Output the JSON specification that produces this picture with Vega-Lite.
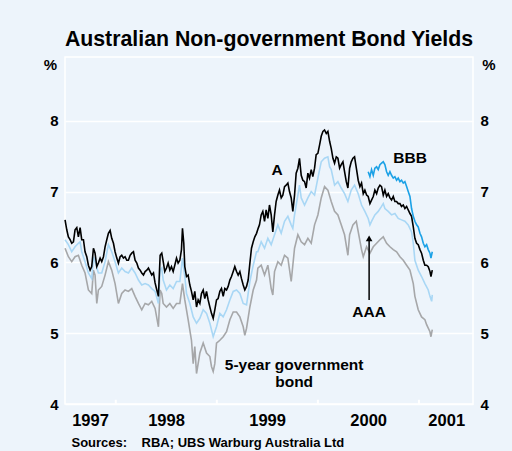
{
"$schema": "https://vega.github.io/schema/vega-lite/v6.json",
"width": 408, "height": 347,
"autosize": {"type": "none"},
"padding": {"left": 65, "top": 57, "right": 39, "bottom": 47},
"background": "#edf4fb",
"title": {"text": "Australian Non-government Bond Yields", "fontSize": 21.3, "font": "Liberation Sans", "fontWeight": "bold", "color": "black", "anchor": "middle", "frame": "group", "baseline": "alphabetic", "offset": -10},
"config": {
  "view": {"fill": "#edf4fb", "stroke": "white", "strokeWidth": 1.5},
  "font": "Liberation Sans",
  "axis": {"gridColor": "white", "gridWidth": 1.5, "gridOpacity": 1, "domain": false, "ticks": false, "labelFont": "Liberation Sans", "labelFontWeight": "bold", "labelColor": "black", "titleFont": "Liberation Sans", "titleFontWeight": "bold", "titleColor": "black"}
},
"resolve": {"axis": {"y": "independent"}},
"datasets": {
"lines": [
{"s":"G","t":1997.498,"v":6.20},{"s":"G","t":1997.531,"v":6.08},{"s":"G","t":1997.564,"v":6.01},{"s":"G","t":1997.597,"v":6.08},{"s":"G","t":1997.630,"v":6.10},{"s":"G","t":1997.663,"v":5.96},{"s":"G","t":1997.696,"v":5.85},{"s":"G","t":1997.729,"v":5.61},{"s":"G","t":1997.762,"v":5.56},{"s":"G","t":1997.779,"v":5.89},{"s":"G","t":1997.795,"v":5.82},{"s":"G","t":1997.812,"v":5.42},{"s":"G","t":1997.828,"v":5.61},{"s":"G","t":1997.861,"v":5.66},{"s":"G","t":1997.894,"v":5.82},{"s":"G","t":1997.927,"v":6.01},{"s":"G","t":1997.960,"v":5.89},{"s":"G","t":1997.993,"v":5.70},{"s":"G","t":1998.026,"v":5.42},{"s":"G","t":1998.059,"v":5.56},{"s":"G","t":1998.092,"v":5.61},{"s":"G","t":1998.125,"v":5.59},{"s":"G","t":1998.158,"v":5.63},{"s":"G","t":1998.191,"v":5.52},{"s":"G","t":1998.224,"v":5.42},{"s":"G","t":1998.257,"v":5.33},{"s":"G","t":1998.290,"v":5.42},{"s":"G","t":1998.323,"v":5.40},{"s":"G","t":1998.356,"v":5.45},{"s":"G","t":1998.389,"v":5.35},{"s":"G","t":1998.422,"v":5.09},{"s":"G","t":1998.439,"v":5.61},{"s":"G","t":1998.455,"v":5.56},{"s":"G","t":1998.469,"v":5.42},{"s":"G","t":1998.502,"v":5.37},{"s":"G","t":1998.535,"v":5.42},{"s":"G","t":1998.568,"v":5.35},{"s":"G","t":1998.601,"v":5.42},{"s":"G","t":1998.634,"v":5.42},{"s":"G","t":1998.660,"v":5.70},{"s":"G","t":1998.683,"v":5.47},{"s":"G","t":1998.716,"v":5.19},{"s":"G","t":1998.749,"v":4.90},{"s":"G","t":1998.766,"v":4.57},{"s":"G","t":1998.782,"v":4.81},{"s":"G","t":1998.799,"v":4.43},{"s":"G","t":1998.832,"v":4.72},{"s":"G","t":1998.865,"v":4.86},{"s":"G","t":1998.898,"v":4.72},{"s":"G","t":1998.931,"v":4.67},{"s":"G","t":1998.947,"v":4.53},{"s":"G","t":1998.964,"v":4.46},{"s":"G","t":1998.980,"v":4.57},{"s":"G","t":1998.997,"v":4.86},{"s":"G","t":1999.030,"v":4.90},{"s":"G","t":1999.063,"v":4.95},{"s":"G","t":1999.096,"v":5.02},{"s":"G","t":1999.129,"v":5.19},{"s":"G","t":1999.162,"v":5.30},{"s":"G","t":1999.195,"v":5.30},{"s":"G","t":1999.228,"v":5.23},{"s":"G","t":1999.261,"v":5.09},{"s":"G","t":1999.277,"v":4.97},{"s":"G","t":1999.294,"v":5.07},{"s":"G","t":1999.327,"v":5.37},{"s":"G","t":1999.360,"v":5.61},{"s":"G","t":1999.393,"v":5.75},{"s":"G","t":1999.406,"v":5.92},{"s":"G","t":1999.439,"v":5.96},{"s":"G","t":1999.472,"v":5.82},{"s":"G","t":1999.505,"v":5.96},{"s":"G","t":1999.538,"v":5.63},{"s":"G","t":1999.554,"v":5.54},{"s":"G","t":1999.571,"v":5.87},{"s":"G","t":1999.604,"v":6.01},{"s":"G","t":1999.637,"v":5.96},{"s":"G","t":1999.670,"v":6.10},{"s":"G","t":1999.703,"v":6.06},{"s":"G","t":1999.736,"v":5.73},{"s":"G","t":1999.769,"v":6.20},{"s":"G","t":1999.802,"v":6.39},{"s":"G","t":1999.835,"v":6.29},{"s":"G","t":1999.868,"v":6.25},{"s":"G","t":1999.901,"v":6.34},{"s":"G","t":1999.934,"v":6.27},{"s":"G","t":1999.967,"v":6.53},{"s":"G","t":2000.000,"v":6.67},{"s":"G","t":2000.033,"v":6.91},{"s":"G","t":2000.066,"v":7.07},{"s":"G","t":2000.099,"v":7.02},{"s":"G","t":2000.132,"v":6.86},{"s":"G","t":2000.165,"v":6.72},{"s":"G","t":2000.198,"v":6.67},{"s":"G","t":2000.231,"v":6.53},{"s":"G","t":2000.264,"v":6.39},{"s":"G","t":2000.297,"v":6.10},{"s":"G","t":2000.314,"v":6.39},{"s":"G","t":2000.347,"v":6.53},{"s":"G","t":2000.380,"v":6.58},{"s":"G","t":2000.432,"v":6.18},{"s":"G","t":2000.449,"v":6.08},{"s":"G","t":2000.482,"v":6.22},{"s":"G","t":2000.515,"v":6.13},{"s":"G","t":2000.548,"v":6.22},{"s":"G","t":2000.581,"v":6.27},{"s":"G","t":2000.614,"v":6.32},{"s":"G","t":2000.647,"v":6.36},{"s":"G","t":2000.680,"v":6.27},{"s":"G","t":2000.713,"v":6.22},{"s":"G","t":2000.746,"v":6.18},{"s":"G","t":2000.779,"v":6.15},{"s":"G","t":2000.812,"v":6.08},{"s":"G","t":2000.845,"v":6.03},{"s":"G","t":2000.878,"v":5.96},{"s":"G","t":2000.911,"v":5.89},{"s":"G","t":2000.944,"v":5.70},{"s":"G","t":2000.960,"v":5.52},{"s":"G","t":2000.993,"v":5.33},{"s":"G","t":2001.026,"v":5.23},{"s":"G","t":2001.059,"v":5.19},{"s":"G","t":2001.076,"v":5.12},{"s":"G","t":2001.109,"v":5.02},{"s":"G","t":2001.119,"v":4.95},{"s":"G","t":2001.132,"v":5.05},
{"s":"AAA","t":1997.498,"v":6.32},{"s":"AAA","t":1997.531,"v":6.25},{"s":"AAA","t":1997.564,"v":6.15},{"s":"AAA","t":1997.597,"v":6.22},{"s":"AAA","t":1997.630,"v":6.27},{"s":"AAA","t":1997.647,"v":6.29},{"s":"AAA","t":1997.663,"v":6.15},{"s":"AAA","t":1997.696,"v":6.01},{"s":"AAA","t":1997.729,"v":5.85},{"s":"AAA","t":1997.762,"v":5.77},{"s":"AAA","t":1997.779,"v":6.08},{"s":"AAA","t":1997.795,"v":6.01},{"s":"AAA","t":1997.828,"v":5.85},{"s":"AAA","t":1997.861,"v":5.85},{"s":"AAA","t":1997.894,"v":6.01},{"s":"AAA","t":1997.927,"v":6.25},{"s":"AAA","t":1997.960,"v":6.15},{"s":"AAA","t":1997.993,"v":6.01},{"s":"AAA","t":1998.026,"v":5.85},{"s":"AAA","t":1998.059,"v":5.92},{"s":"AAA","t":1998.092,"v":5.87},{"s":"AAA","t":1998.125,"v":5.85},{"s":"AAA","t":1998.158,"v":5.92},{"s":"AAA","t":1998.191,"v":5.85},{"s":"AAA","t":1998.224,"v":5.75},{"s":"AAA","t":1998.257,"v":5.68},{"s":"AAA","t":1998.290,"v":5.70},{"s":"AAA","t":1998.323,"v":5.68},{"s":"AAA","t":1998.356,"v":5.63},{"s":"AAA","t":1998.389,"v":5.59},{"s":"AAA","t":1998.422,"v":5.42},{"s":"AAA","t":1998.439,"v":5.89},{"s":"AAA","t":1998.455,"v":5.92},{"s":"AAA","t":1998.469,"v":5.75},{"s":"AAA","t":1998.502,"v":5.61},{"s":"AAA","t":1998.535,"v":5.68},{"s":"AAA","t":1998.568,"v":5.63},{"s":"AAA","t":1998.601,"v":5.73},{"s":"AAA","t":1998.634,"v":5.73},{"s":"AAA","t":1998.660,"v":6.06},{"s":"AAA","t":1998.683,"v":5.80},{"s":"AAA","t":1998.700,"v":5.56},{"s":"AAA","t":1998.733,"v":5.42},{"s":"AAA","t":1998.766,"v":5.23},{"s":"AAA","t":1998.799,"v":5.14},{"s":"AAA","t":1998.832,"v":5.21},{"s":"AAA","t":1998.865,"v":5.33},{"s":"AAA","t":1998.898,"v":5.28},{"s":"AAA","t":1998.931,"v":5.14},{"s":"AAA","t":1998.964,"v":4.95},{"s":"AAA","t":1998.997,"v":5.09},{"s":"AAA","t":1999.030,"v":5.28},{"s":"AAA","t":1999.063,"v":5.23},{"s":"AAA","t":1999.096,"v":5.33},{"s":"AAA","t":1999.129,"v":5.47},{"s":"AAA","t":1999.162,"v":5.59},{"s":"AAA","t":1999.195,"v":5.61},{"s":"AAA","t":1999.228,"v":5.56},{"s":"AAA","t":1999.261,"v":5.42},{"s":"AAA","t":1999.294,"v":5.40},{"s":"AAA","t":1999.327,"v":5.73},{"s":"AAA","t":1999.360,"v":5.96},{"s":"AAA","t":1999.393,"v":6.15},{"s":"AAA","t":1999.406,"v":6.15},{"s":"AAA","t":1999.439,"v":6.29},{"s":"AAA","t":1999.472,"v":6.20},{"s":"AAA","t":1999.505,"v":6.34},{"s":"AAA","t":1999.538,"v":6.25},{"s":"AAA","t":1999.571,"v":6.39},{"s":"AAA","t":1999.604,"v":6.53},{"s":"AAA","t":1999.637,"v":6.41},{"s":"AAA","t":1999.670,"v":6.58},{"s":"AAA","t":1999.703,"v":6.65},{"s":"AAA","t":1999.736,"v":6.53},{"s":"AAA","t":1999.752,"v":6.48},{"s":"AAA","t":1999.769,"v":6.67},{"s":"AAA","t":1999.802,"v":6.95},{"s":"AAA","t":1999.818,"v":7.09},{"s":"AAA","t":1999.835,"v":6.91},{"s":"AAA","t":1999.868,"v":6.81},{"s":"AAA","t":1999.901,"v":6.91},{"s":"AAA","t":1999.934,"v":7.00},{"s":"AAA","t":1999.967,"v":6.95},{"s":"AAA","t":2000.000,"v":7.19},{"s":"AAA","t":2000.033,"v":7.42},{"s":"AAA","t":2000.066,"v":7.47},{"s":"AAA","t":2000.099,"v":7.49},{"s":"AAA","t":2000.116,"v":7.35},{"s":"AAA","t":2000.132,"v":7.31},{"s":"AAA","t":2000.165,"v":7.09},{"s":"AAA","t":2000.198,"v":7.14},{"s":"AAA","t":2000.231,"v":7.05},{"s":"AAA","t":2000.264,"v":6.97},{"s":"AAA","t":2000.297,"v":6.86},{"s":"AAA","t":2000.330,"v":7.02},{"s":"AAA","t":2000.363,"v":7.09},{"s":"AAA","t":2000.399,"v":6.97},{"s":"AAA","t":2000.432,"v":6.81},{"s":"AAA","t":2000.465,"v":6.72},{"s":"AAA","t":2000.498,"v":6.62},{"s":"AAA","t":2000.515,"v":6.53},{"s":"AAA","t":2000.531,"v":6.58},{"s":"AAA","t":2000.564,"v":6.67},{"s":"AAA","t":2000.597,"v":6.72},{"s":"AAA","t":2000.630,"v":6.79},{"s":"AAA","t":2000.647,"v":6.83},{"s":"AAA","t":2000.663,"v":6.76},{"s":"AAA","t":2000.696,"v":6.72},{"s":"AAA","t":2000.729,"v":6.67},{"s":"AAA","t":2000.762,"v":6.69},{"s":"AAA","t":2000.795,"v":6.62},{"s":"AAA","t":2000.828,"v":6.60},{"s":"AAA","t":2000.861,"v":6.58},{"s":"AAA","t":2000.894,"v":6.53},{"s":"AAA","t":2000.927,"v":6.43},{"s":"AAA","t":2000.944,"v":6.27},{"s":"AAA","t":2000.960,"v":6.03},{"s":"AAA","t":2000.993,"v":5.89},{"s":"AAA","t":2001.026,"v":5.80},{"s":"AAA","t":2001.059,"v":5.70},{"s":"AAA","t":2001.092,"v":5.61},{"s":"AAA","t":2001.109,"v":5.52},{"s":"AAA","t":2001.126,"v":5.45},{"s":"AAA","t":2001.132,"v":5.54},
{"s":"A","t":1997.498,"v":6.60},{"s":"A","t":1997.515,"v":6.46},{"s":"A","t":1997.531,"v":6.36},{"s":"A","t":1997.548,"v":6.32},{"s":"A","t":1997.564,"v":6.27},{"s":"A","t":1997.581,"v":6.29},{"s":"A","t":1997.597,"v":6.46},{"s":"A","t":1997.614,"v":6.49},{"s":"A","t":1997.630,"v":6.36},{"s":"A","t":1997.647,"v":6.49},{"s":"A","t":1997.663,"v":6.32},{"s":"A","t":1997.680,"v":6.32},{"s":"A","t":1997.696,"v":6.15},{"s":"A","t":1997.713,"v":6.08},{"s":"A","t":1997.729,"v":5.96},{"s":"A","t":1997.746,"v":5.89},{"s":"A","t":1997.762,"v":5.94},{"s":"A","t":1997.779,"v":6.20},{"s":"A","t":1997.795,"v":6.13},{"s":"A","t":1997.812,"v":5.94},{"s":"A","t":1997.828,"v":5.99},{"s":"A","t":1997.845,"v":6.06},{"s":"A","t":1997.861,"v":6.01},{"s":"A","t":1997.878,"v":6.08},{"s":"A","t":1997.894,"v":6.22},{"s":"A","t":1997.911,"v":6.32},{"s":"A","t":1997.927,"v":6.41},{"s":"A","t":1997.944,"v":6.45},{"s":"A","t":1997.960,"v":6.34},{"s":"A","t":1997.977,"v":6.27},{"s":"A","t":1997.993,"v":6.15},{"s":"A","t":1998.010,"v":6.06},{"s":"A","t":1998.026,"v":5.99},{"s":"A","t":1998.043,"v":6.08},{"s":"A","t":1998.059,"v":6.10},{"s":"A","t":1998.076,"v":6.06},{"s":"A","t":1998.092,"v":6.08},{"s":"A","t":1998.109,"v":6.03},{"s":"A","t":1998.125,"v":6.03},{"s":"A","t":1998.142,"v":6.10},{"s":"A","t":1998.158,"v":6.13},{"s":"A","t":1998.175,"v":6.15},{"s":"A","t":1998.191,"v":6.03},{"s":"A","t":1998.208,"v":5.99},{"s":"A","t":1998.224,"v":5.92},{"s":"A","t":1998.241,"v":5.89},{"s":"A","t":1998.257,"v":5.85},{"s":"A","t":1998.274,"v":5.82},{"s":"A","t":1998.290,"v":5.87},{"s":"A","t":1998.307,"v":5.89},{"s":"A","t":1998.323,"v":5.92},{"s":"A","t":1998.340,"v":5.87},{"s":"A","t":1998.356,"v":5.82},{"s":"A","t":1998.373,"v":5.85},{"s":"A","t":1998.389,"v":5.71},{"s":"A","t":1998.406,"v":5.61},{"s":"A","t":1998.422,"v":5.52},{"s":"A","t":1998.439,"v":6.10},{"s":"A","t":1998.455,"v":6.13},{"s":"A","t":1998.472,"v":5.99},{"s":"A","t":1998.485,"v":5.87},{"s":"A","t":1998.502,"v":5.92},{"s":"A","t":1998.518,"v":5.99},{"s":"A","t":1998.535,"v":5.89},{"s":"A","t":1998.551,"v":5.94},{"s":"A","t":1998.568,"v":5.87},{"s":"A","t":1998.584,"v":5.96},{"s":"A","t":1998.601,"v":6.06},{"s":"A","t":1998.617,"v":5.99},{"s":"A","t":1998.634,"v":6.03},{"s":"A","t":1998.650,"v":6.18},{"s":"A","t":1998.660,"v":6.48},{"s":"A","t":1998.673,"v":6.27},{"s":"A","t":1998.683,"v":5.94},{"s":"A","t":1998.700,"v":5.80},{"s":"A","t":1998.716,"v":5.82},{"s":"A","t":1998.733,"v":5.68},{"s":"A","t":1998.749,"v":5.59},{"s":"A","t":1998.766,"v":5.47},{"s":"A","t":1998.782,"v":5.59},{"s":"A","t":1998.799,"v":5.37},{"s":"A","t":1998.815,"v":5.47},{"s":"A","t":1998.832,"v":5.42},{"s":"A","t":1998.848,"v":5.56},{"s":"A","t":1998.865,"v":5.61},{"s":"A","t":1998.881,"v":5.49},{"s":"A","t":1998.898,"v":5.59},{"s":"A","t":1998.914,"v":5.47},{"s":"A","t":1998.931,"v":5.37},{"s":"A","t":1998.947,"v":5.28},{"s":"A","t":1998.964,"v":5.21},{"s":"A","t":1998.980,"v":5.33},{"s":"A","t":1998.997,"v":5.47},{"s":"A","t":1999.013,"v":5.49},{"s":"A","t":1999.030,"v":5.59},{"s":"A","t":1999.046,"v":5.63},{"s":"A","t":1999.063,"v":5.52},{"s":"A","t":1999.079,"v":5.63},{"s":"A","t":1999.096,"v":5.61},{"s":"A","t":1999.112,"v":5.66},{"s":"A","t":1999.129,"v":5.75},{"s":"A","t":1999.145,"v":5.80},{"s":"A","t":1999.162,"v":5.87},{"s":"A","t":1999.178,"v":5.94},{"s":"A","t":1999.195,"v":5.87},{"s":"A","t":1999.211,"v":5.82},{"s":"A","t":1999.228,"v":5.87},{"s":"A","t":1999.244,"v":5.77},{"s":"A","t":1999.261,"v":5.68},{"s":"A","t":1999.277,"v":5.61},{"s":"A","t":1999.294,"v":5.66},{"s":"A","t":1999.310,"v":5.75},{"s":"A","t":1999.327,"v":5.99},{"s":"A","t":1999.343,"v":6.20},{"s":"A","t":1999.360,"v":6.29},{"s":"A","t":1999.376,"v":6.36},{"s":"A","t":1999.393,"v":6.41},{"s":"A","t":1999.409,"v":6.48},{"s":"A","t":1999.422,"v":6.53},{"s":"A","t":1999.439,"v":6.67},{"s":"A","t":1999.455,"v":6.72},{"s":"A","t":1999.472,"v":6.58},{"s":"A","t":1999.488,"v":6.74},{"s":"A","t":1999.505,"v":6.62},{"s":"A","t":1999.521,"v":6.81},{"s":"A","t":1999.538,"v":6.67},{"s":"A","t":1999.554,"v":6.43},{"s":"A","t":1999.571,"v":6.67},{"s":"A","t":1999.587,"v":6.86},{"s":"A","t":1999.604,"v":6.95},{"s":"A","t":1999.620,"v":7.02},{"s":"A","t":1999.637,"v":6.91},{"s":"A","t":1999.653,"v":6.95},{"s":"A","t":1999.670,"v":7.07},{"s":"A","t":1999.686,"v":7.09},{"s":"A","t":1999.703,"v":7.12},{"s":"A","t":1999.719,"v":7.00},{"s":"A","t":1999.736,"v":6.91},{"s":"A","t":1999.752,"v":6.72},{"s":"A","t":1999.769,"v":6.95},{"s":"A","t":1999.785,"v":7.26},{"s":"A","t":1999.802,"v":7.33},{"s":"A","t":1999.818,"v":7.47},{"s":"A","t":1999.835,"v":7.23},{"s":"A","t":1999.851,"v":7.16},{"s":"A","t":1999.868,"v":7.14},{"s":"A","t":1999.884,"v":7.05},{"s":"A","t":1999.901,"v":7.26},{"s":"A","t":1999.917,"v":7.19},{"s":"A","t":1999.934,"v":7.31},{"s":"A","t":1999.950,"v":7.21},{"s":"A","t":1999.967,"v":7.33},{"s":"A","t":1999.983,"v":7.52},{"s":"A","t":2000.000,"v":7.54},{"s":"A","t":2000.017,"v":7.66},{"s":"A","t":2000.033,"v":7.78},{"s":"A","t":2000.050,"v":7.85},{"s":"A","t":2000.066,"v":7.87},{"s":"A","t":2000.083,"v":7.82},{"s":"A","t":2000.099,"v":7.85},{"s":"A","t":2000.116,"v":7.71},{"s":"A","t":2000.132,"v":7.61},{"s":"A","t":2000.149,"v":7.47},{"s":"A","t":2000.165,"v":7.40},{"s":"A","t":2000.182,"v":7.49},{"s":"A","t":2000.198,"v":7.47},{"s":"A","t":2000.215,"v":7.33},{"s":"A","t":2000.231,"v":7.38},{"s":"A","t":2000.248,"v":7.42},{"s":"A","t":2000.264,"v":7.28},{"s":"A","t":2000.281,"v":7.14},{"s":"A","t":2000.297,"v":7.05},{"s":"A","t":2000.314,"v":7.33},{"s":"A","t":2000.330,"v":7.42},{"s":"A","t":2000.347,"v":7.47},{"s":"A","t":2000.363,"v":7.49},{"s":"A","t":2000.383,"v":7.31},{"s":"A","t":2000.399,"v":7.16},{"s":"A","t":2000.416,"v":7.07},{"s":"A","t":2000.432,"v":7.12},{"s":"A","t":2000.449,"v":6.97},{"s":"A","t":2000.465,"v":7.02},{"s":"A","t":2000.482,"v":6.95},{"s":"A","t":2000.498,"v":6.93},{"s":"A","t":2000.515,"v":6.83},{"s":"A","t":2000.531,"v":6.88},{"s":"A","t":2000.548,"v":6.93},{"s":"A","t":2000.564,"v":7.02},{"s":"A","t":2000.581,"v":6.97},{"s":"A","t":2000.597,"v":7.05},{"s":"A","t":2000.614,"v":7.09},{"s":"A","t":2000.630,"v":7.07},{"s":"A","t":2000.647,"v":6.95},{"s":"A","t":2000.663,"v":7.02},{"s":"A","t":2000.680,"v":6.93},{"s":"A","t":2000.696,"v":6.97},{"s":"A","t":2000.713,"v":6.91},{"s":"A","t":2000.729,"v":6.88},{"s":"A","t":2000.746,"v":6.93},{"s":"A","t":2000.762,"v":6.86},{"s":"A","t":2000.779,"v":6.86},{"s":"A","t":2000.795,"v":6.83},{"s":"A","t":2000.812,"v":6.83},{"s":"A","t":2000.828,"v":6.79},{"s":"A","t":2000.845,"v":6.81},{"s":"A","t":2000.861,"v":6.76},{"s":"A","t":2000.878,"v":6.79},{"s":"A","t":2000.894,"v":6.74},{"s":"A","t":2000.911,"v":6.69},{"s":"A","t":2000.927,"v":6.65},{"s":"A","t":2000.944,"v":6.50},{"s":"A","t":2000.960,"v":6.34},{"s":"A","t":2000.977,"v":6.27},{"s":"A","t":2000.993,"v":6.25},{"s":"A","t":2001.010,"v":6.18},{"s":"A","t":2001.026,"v":6.13},{"s":"A","t":2001.043,"v":6.03},{"s":"A","t":2001.059,"v":5.96},{"s":"A","t":2001.076,"v":5.96},{"s":"A","t":2001.092,"v":5.94},{"s":"A","t":2001.109,"v":5.87},{"s":"A","t":2001.119,"v":5.80},{"s":"A","t":2001.132,"v":5.89},
{"s":"BBB","t":2000.498,"v":7.28},{"s":"BBB","t":2000.515,"v":7.21},{"s":"BBB","t":2000.531,"v":7.31},{"s":"BBB","t":2000.548,"v":7.23},{"s":"BBB","t":2000.564,"v":7.33},{"s":"BBB","t":2000.581,"v":7.35},{"s":"BBB","t":2000.597,"v":7.31},{"s":"BBB","t":2000.614,"v":7.38},{"s":"BBB","t":2000.630,"v":7.40},{"s":"BBB","t":2000.647,"v":7.42},{"s":"BBB","t":2000.663,"v":7.38},{"s":"BBB","t":2000.680,"v":7.28},{"s":"BBB","t":2000.696,"v":7.23},{"s":"BBB","t":2000.713,"v":7.28},{"s":"BBB","t":2000.729,"v":7.23},{"s":"BBB","t":2000.746,"v":7.19},{"s":"BBB","t":2000.762,"v":7.21},{"s":"BBB","t":2000.779,"v":7.16},{"s":"BBB","t":2000.795,"v":7.19},{"s":"BBB","t":2000.812,"v":7.14},{"s":"BBB","t":2000.828,"v":7.16},{"s":"BBB","t":2000.845,"v":7.12},{"s":"BBB","t":2000.861,"v":7.14},{"s":"BBB","t":2000.878,"v":7.07},{"s":"BBB","t":2000.894,"v":7.00},{"s":"BBB","t":2000.911,"v":6.93},{"s":"BBB","t":2000.927,"v":6.76},{"s":"BBB","t":2000.944,"v":6.65},{"s":"BBB","t":2000.960,"v":6.58},{"s":"BBB","t":2000.977,"v":6.53},{"s":"BBB","t":2000.993,"v":6.50},{"s":"BBB","t":2001.010,"v":6.41},{"s":"BBB","t":2001.026,"v":6.36},{"s":"BBB","t":2001.043,"v":6.27},{"s":"BBB","t":2001.059,"v":6.22},{"s":"BBB","t":2001.076,"v":6.25},{"s":"BBB","t":2001.092,"v":6.18},{"s":"BBB","t":2001.109,"v":6.13},{"s":"BBB","t":2001.119,"v":6.06},{"s":"BBB","t":2001.132,"v":6.15}
],
"labels": [
{"label":"A","t":1999.597,"v":7.305},
{"label":"BBB","t":2000.913,"v":7.475},
{"label":"AAA","t":2000.507,"v":5.30},
{"label":"5-year government\nbond","t":1999.765,"v":4.55}
],
"arrow": [{"t":2000.507,"v1":5.47,"v2":6.34}],
"ticks": [{"t":1998},{"t":1999},{"t":2000},{"t":2001}]
},
"encoding": {
  "x": {"field": "t", "type": "quantitative", "scale": {"domain": [1997.4975, 2001.535], "nice": false, "zero": false},
        "axis": {"orient": "bottom", "values": [1997.745, 1998.4975, 1999.4975, 2000.4975, 2001.27], "labelExpr": "'' + floor(datum.value)", "grid": false, "labelFontSize": 16.5, "labelBaseline": "alphabetic", "labelPadding": 21, "labelFlush": false, "labelOverlap": false,
                 "title": "Sources:\u00a0\u00a0\u00a0\u00a0RBA; UBS Warburg Australia Ltd", "titleFontSize": 13, "titleAnchor": "start", "titleAlign": "left", "titleX": 6, "titleY": 42, "titleBaseline": "alphabetic"}}
},
"layer": [
{
 "data": {"name": "lines"},
 "mark": {"type": "line", "strokeWidth": 1.6},
 "encoding": {
  "y": {"field": "v", "type": "quantitative", "scale": {"domain": [4, 8.9], "nice": false, "zero": false},
        "axis": {"values": [4, 5, 6, 7, 8], "grid": true, "labelFontSize": 15, "labelPadding": 7, "labelBaseline": "middle",
                 "title": "%", "titleAngle": 0, "titleFontSize": 15, "titleX": -15, "titleY": 12, "titleAlign": "center", "titleBaseline": "alphabetic"}},
  "color": {"field": "s", "type": "nominal", "sort": null, "scale": {"domain": ["G", "AAA", "A", "BBB"], "range": ["#a6a7a9", "#a9d7f5", "#000000", "#1ba1e6"]}, "legend": null}
 }
},
{
 "data": {"name": "arrow"},
 "mark": {"type": "rule", "strokeWidth": 1.5, "color": "black"},
 "encoding": {
  "y": {"field": "v1", "type": "quantitative", "axis": null},
  "y2": {"field": "v2"}
 }
},
{
 "data": {"name": "arrow"},
 "mark": {"type": "point", "shape": "triangle-up", "filled": true, "size": 45, "color": "black", "opacity": 1},
 "encoding": {
  "y": {"field": "v2", "type": "quantitative", "axis": null}
 }
},
{
 "data": {"name": "ticks"},
 "mark": {"type": "rule", "strokeWidth": 2, "color": "white"},
 "encoding": {
  "y": {"datum": 4, "type": "quantitative", "axis": null},
  "y2": {"datum": 4.06}
 }
},
{
 "data": {"name": "labels"},
 "mark": {"type": "text", "font": "Liberation Sans", "fontWeight": "bold", "fontSize": 15.5, "align": "center", "baseline": "middle", "lineBreak": "\n", "lineHeight": 17, "color": "black"},
 "encoding": {
  "y": {"field": "v", "type": "quantitative",
        "axis": {"orient": "right", "values": [4, 5, 6, 7, 8], "grid": false, "labelFontSize": 15, "labelPadding": 7, "labelBaseline": "middle",
                 "title": "%", "titleAngle": 0, "titleFontSize": 15, "titleX": 15.5, "titleY": 12, "titleAlign": "center", "titleBaseline": "alphabetic"}},
  "text": {"field": "label"}
 }
}
]
}
